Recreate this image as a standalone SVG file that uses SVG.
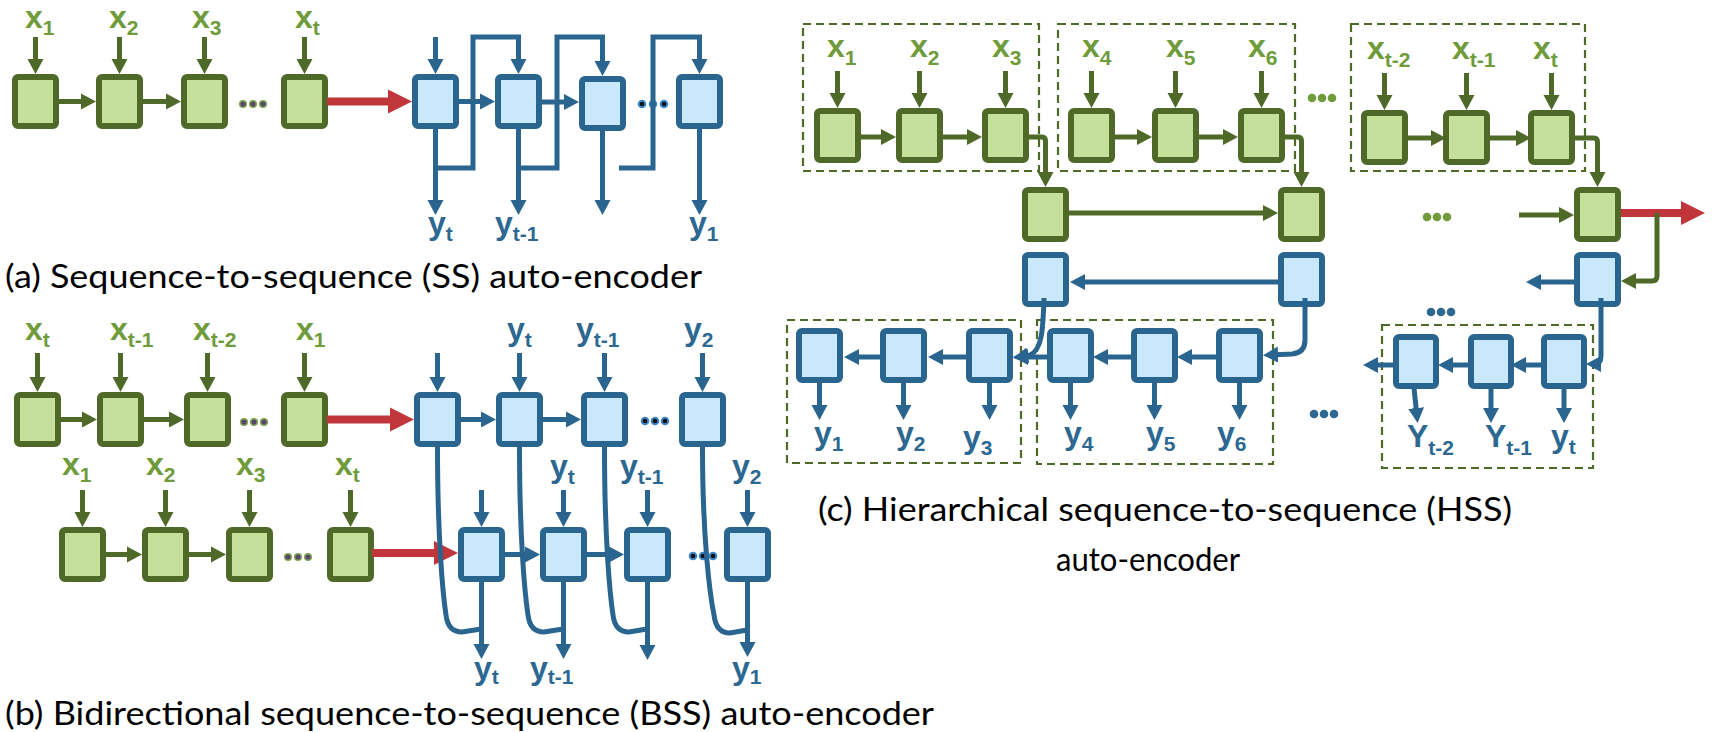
<svg xmlns="http://www.w3.org/2000/svg" width="1712" height="732" viewBox="0 0 1712 732">
<style>
.gb{fill:#c5e09b;stroke:#4f6a28;stroke-width:6}
.bb{fill:#cae8fb;stroke:#2a6590;stroke-width:6}
.gl{fill:none;stroke:#4f6a28;stroke-width:5}
.bl{fill:none;stroke:#2a6590;stroke-width:5}
.rl{fill:none;stroke:#c0363a;stroke-width:8}
.ga{fill:none;stroke:#4f6a28;stroke-width:5;marker-end:url(#ag)}
.ba{fill:none;stroke:#2a6590;stroke-width:5;marker-end:url(#ab)}
.ra{fill:none;stroke:#c0363a;stroke-width:8;marker-end:url(#ar)}
.lg{font-family:"Liberation Sans",Arial,sans-serif;font-weight:bold;font-size:32px;fill:#6f9b3b}
.lb{font-family:"Liberation Sans",Arial,sans-serif;font-weight:bold;font-size:32px;fill:#2c6892}
.sub{font-size:21px}
.cap{font-family:Lato,"Liberation Sans",sans-serif;font-size:33px;fill:#000}
.dash{fill:none;stroke:#4f6a28;stroke-width:2.2;stroke-dasharray:8 5}
.dg{fill:#5b4570;stroke:#7ea650;stroke-width:1.5}
.db{fill:#111;stroke:#3d86c6;stroke-width:2}
.dcg{fill:#6f9b3b}
.dcb{fill:#2c6892}
</style>
<defs>
<marker id="ag" markerUnits="userSpaceOnUse" markerWidth="16" markerHeight="18" viewBox="0 0 16 18" refX="9" refY="9" orient="auto"><path d="M0,1 L15,9 L0,17 z" fill="#4f6a28"/></marker>
<marker id="ab" markerUnits="userSpaceOnUse" markerWidth="16" markerHeight="18" viewBox="0 0 16 18" refX="9" refY="9" orient="auto"><path d="M0,1 L15,9 L0,17 z" fill="#2a6590"/></marker>
<marker id="ar" markerUnits="userSpaceOnUse" markerWidth="25" markerHeight="26" viewBox="0 0 25 26" refX="14" refY="13" orient="auto"><path d="M0,1 L24,13 L0,25 z" fill="#c0363a"/></marker>
</defs>

<!-- ===== (a) ===== -->
<g id="a-enc1"><rect class="gb" x="15" y="77" width="41" height="49" rx="3"/><text class="lg" x="25" y="28">x<tspan class="sub" dy="7">1</tspan></text></g>
<g id="a-enc2"><rect class="gb" x="99" y="77" width="41" height="49" rx="3"/><text class="lg" x="109" y="28">x<tspan class="sub" dy="7">2</tspan></text></g>
<g id="a-enc3"><rect class="gb" x="184" y="77" width="41" height="49" rx="3"/><text class="lg" x="192" y="28">x<tspan class="sub" dy="7">3</tspan></text></g>
<g id="a-enc4"><rect class="gb" x="284" y="77" width="41" height="49" rx="3"/><text class="lg" x="295" y="28">x<tspan class="sub" dy="7">t</tspan></text></g>
<g id="a-dec1"><rect class="bb" x="415" y="77" width="41" height="49" rx="3"/><text class="lb" x="428" y="234">y<tspan class="sub" dy="7">t</tspan></text></g>
<g id="a-dec2"><rect class="bb" x="498" y="77" width="41" height="49" rx="3"/><text class="lb" x="495" y="234">y<tspan class="sub" dy="7">t-1</tspan></text></g>
<g id="a-dec3"><rect class="bb" x="582" y="79" width="41" height="49" rx="3"/></g>
<g id="a-dec4"><rect class="bb" x="679" y="77" width="41" height="49" rx="3"/><text class="lb" x="689" y="234">y<tspan class="sub" dy="7">1</tspan></text></g>
<g id="a-dots">
<circle class="dg" cx="243" cy="104" r="3.3"/><circle class="dg" cx="253" cy="104" r="3.3"/><circle class="dg" cx="263" cy="104" r="3.3"/>
<circle class="db" cx="642" cy="104" r="3.3"/><circle class="db" cx="653" cy="104" r="3.3"/><circle class="db" cx="664" cy="104" r="3.3"/>
</g>

<!-- ===== (b) ===== -->
<g id="b-enc1"><rect class="gb" x="17" y="395" width="41" height="49" rx="3"/><text class="lg" x="25" y="340">x<tspan class="sub" dy="7">t</tspan></text></g>
<g id="b-enc2"><rect class="gb" x="100" y="395" width="41" height="49" rx="3"/><text class="lg" x="110" y="340">x<tspan class="sub" dy="7">t-1</tspan></text></g>
<g id="b-enc3"><rect class="gb" x="187" y="395" width="41" height="49" rx="3"/><text class="lg" x="193" y="340">x<tspan class="sub" dy="7">t-2</tspan></text></g>
<g id="b-enc4"><rect class="gb" x="284" y="395" width="41" height="49" rx="3"/><text class="lg" x="296" y="340">x<tspan class="sub" dy="7">1</tspan></text></g>
<g id="b-dec1"><rect class="bb" x="417" y="395" width="41" height="49" rx="3"/></g>
<g id="b-dec2"><rect class="bb" x="499" y="395" width="41" height="49" rx="3"/><text class="lb" x="507" y="340">y<tspan class="sub" dy="7">t</tspan></text></g>
<g id="b-dec3"><rect class="bb" x="584" y="395" width="41" height="49" rx="3"/><text class="lb" x="576" y="340">y<tspan class="sub" dy="7">t-1</tspan></text></g>
<g id="b-dec4"><rect class="bb" x="682" y="395" width="41" height="49" rx="3"/><text class="lb" x="684" y="340">y<tspan class="sub" dy="7">2</tspan></text></g>

<g id="b-renc1"><rect class="gb" x="62" y="530" width="41" height="49" rx="3"/><text class="lg" x="62" y="475">x<tspan class="sub" dy="7">1</tspan></text></g>
<g id="b-renc2"><rect class="gb" x="145" y="530" width="41" height="49" rx="3"/><text class="lg" x="146" y="475">x<tspan class="sub" dy="7">2</tspan></text></g>
<g id="b-renc3"><rect class="gb" x="229" y="530" width="41" height="49" rx="3"/><text class="lg" x="236" y="475">x<tspan class="sub" dy="7">3</tspan></text></g>
<g id="b-renc4"><rect class="gb" x="330" y="530" width="41" height="49" rx="3"/><text class="lg" x="335" y="475">x<tspan class="sub" dy="7">t</tspan></text></g>
<g id="b-rdec1"><rect class="bb" x="461" y="530" width="41" height="49" rx="3"/><text class="lb" x="474" y="679">y<tspan class="sub" dy="5">t</tspan></text></g>
<g id="b-rdec2"><rect class="bb" x="543" y="530" width="41" height="49" rx="3"/><text class="lb" x="550" y="477">y<tspan class="sub" dy="7">t</tspan></text><text class="lb" x="530" y="679">y<tspan class="sub" dy="5">t-1</tspan></text></g>
<g id="b-rdec3"><rect class="bb" x="627" y="530" width="41" height="49" rx="3"/><text class="lb" x="620" y="477">y<tspan class="sub" dy="7">t-1</tspan></text></g>
<g id="b-rdec4"><rect class="bb" x="727" y="530" width="41" height="49" rx="3"/><text class="lb" x="732" y="477">y<tspan class="sub" dy="7">2</tspan></text><text class="lb" x="732" y="679">y<tspan class="sub" dy="5">1</tspan></text></g>
<g id="b-dots">
<circle class="dg" cx="244" cy="422" r="3.3"/><circle class="dg" cx="254" cy="422" r="3.3"/><circle class="dg" cx="264" cy="422" r="3.3"/>
<circle class="db" cx="645" cy="421" r="3.3"/><circle class="db" cx="655" cy="421" r="3.3"/><circle class="db" cx="665" cy="421" r="3.3"/>
<circle class="dg" cx="288" cy="557" r="3.3"/><circle class="dg" cx="298" cy="557" r="3.3"/><circle class="dg" cx="308" cy="557" r="3.3"/>
<circle class="db" cx="693" cy="556" r="3.3"/><circle class="db" cx="703" cy="556" r="3.3"/><circle class="db" cx="713" cy="556" r="3.3"/>
</g>

<!-- ===== (c) ===== -->
<g id="c-groups">
<rect class="dash" x="803" y="24" width="236" height="147"/>
<rect class="dash" x="1058" y="24" width="237" height="147"/>
<rect class="dash" x="1351" y="24" width="234" height="147"/>
<rect class="dash" x="787" y="320" width="234" height="143"/>
<rect class="dash" x="1037" y="320" width="236" height="144"/>
<rect class="dash" x="1382" y="325" width="211" height="143"/>
</g>
<g id="c-enc1"><rect class="gb" x="817" y="111" width="41" height="49" rx="3"/><text class="lg" x="827" y="57">x<tspan class="sub" dy="8">1</tspan></text></g>
<g id="c-enc2"><rect class="gb" x="899" y="111" width="41" height="49" rx="3"/><text class="lg" x="910" y="57">x<tspan class="sub" dy="8">2</tspan></text></g>
<g id="c-enc3"><rect class="gb" x="985" y="111" width="41" height="49" rx="3"/><text class="lg" x="992" y="57">x<tspan class="sub" dy="8">3</tspan></text></g>
<g id="c-enc4"><rect class="gb" x="1071" y="111" width="41" height="49" rx="3"/><text class="lg" x="1082" y="57">x<tspan class="sub" dy="8">4</tspan></text></g>
<g id="c-enc5"><rect class="gb" x="1155" y="111" width="41" height="49" rx="3"/><text class="lg" x="1166" y="57">x<tspan class="sub" dy="8">5</tspan></text></g>
<g id="c-enc6"><rect class="gb" x="1241" y="111" width="41" height="49" rx="3"/><text class="lg" x="1248" y="57">x<tspan class="sub" dy="8">6</tspan></text></g>
<g id="c-enc7"><rect class="gb" x="1364" y="113" width="41" height="49" rx="3"/><text class="lg" x="1367" y="59">x<tspan class="sub" dy="8">t-2</tspan></text></g>
<g id="c-enc8"><rect class="gb" x="1446" y="113" width="41" height="49" rx="3"/><text class="lg" x="1452" y="59">x<tspan class="sub" dy="8">t-1</tspan></text></g>
<g id="c-enc9"><rect class="gb" x="1531" y="113" width="41" height="49" rx="3"/><text class="lg" x="1533" y="59">x<tspan class="sub" dy="8">t</tspan></text></g>
<g id="c-sum1"><rect class="gb" x="1025" y="190" width="41" height="49" rx="3"/></g>
<g id="c-sum2"><rect class="gb" x="1281" y="190" width="41" height="49" rx="3"/></g>
<g id="c-sum3"><rect class="gb" x="1577" y="190" width="41" height="49" rx="3"/></g>
<g id="c-sdec1"><rect class="bb" x="1025" y="255" width="41" height="49" rx="3"/></g>
<g id="c-sdec2"><rect class="bb" x="1281" y="255" width="41" height="49" rx="3"/></g>
<g id="c-sdec3"><rect class="bb" x="1577" y="255" width="41" height="49" rx="3"/></g>
<g id="c-dec1"><rect class="bb" x="799" y="331" width="41" height="49" rx="3"/><text class="lb" x="814" y="444">y<tspan class="sub" dy="7">1</tspan></text></g>
<g id="c-dec2"><rect class="bb" x="883" y="331" width="41" height="49" rx="3"/><text class="lb" x="896" y="444">y<tspan class="sub" dy="7">2</tspan></text></g>
<g id="c-dec3"><rect class="bb" x="969" y="331" width="41" height="49" rx="3"/><text class="lb" x="963" y="448">y<tspan class="sub" dy="7">3</tspan></text></g>
<g id="c-dec4"><rect class="bb" x="1050" y="331" width="41" height="49" rx="3"/><text class="lb" x="1064" y="444">y<tspan class="sub" dy="7">4</tspan></text></g>
<g id="c-dec5"><rect class="bb" x="1134" y="331" width="41" height="49" rx="3"/><text class="lb" x="1146" y="444">y<tspan class="sub" dy="7">5</tspan></text></g>
<g id="c-dec6"><rect class="bb" x="1219" y="331" width="41" height="49" rx="3"/><text class="lb" x="1217" y="444">y<tspan class="sub" dy="7">6</tspan></text></g>
<g id="c-dec7"><rect class="bb" x="1396" y="337" width="40" height="49" rx="3"/><text class="lb" x="1407" y="447">Y<tspan class="sub" dy="8">t-2</tspan></text></g>
<g id="c-dec8"><rect class="bb" x="1471" y="337" width="40" height="49" rx="3"/><text class="lb" x="1485" y="447">Y<tspan class="sub" dy="8">t-1</tspan></text></g>
<g id="c-dec9"><rect class="bb" x="1544" y="337" width="40" height="49" rx="3"/><text class="lb" x="1551" y="447">y<tspan class="sub" dy="7">t</tspan></text></g>
<g id="c-dots">
<circle class="dcg" cx="1312" cy="98" r="4.3"/><circle class="dcg" cx="1322" cy="98" r="4.3"/><circle class="dcg" cx="1332" cy="98" r="4.3"/>
<circle class="dcg" cx="1427" cy="217" r="4.3"/><circle class="dcg" cx="1437" cy="217" r="4.3"/><circle class="dcg" cx="1447" cy="217" r="4.3"/>
<circle class="dcb" cx="1431" cy="312" r="4.3"/><circle class="dcb" cx="1441" cy="312" r="4.3"/><circle class="dcb" cx="1451" cy="312" r="4.3"/>
<circle class="dcb" cx="1314" cy="414" r="4.3"/><circle class="dcb" cx="1324" cy="414" r="4.3"/><circle class="dcb" cx="1334" cy="414" r="4.3"/>
</g>

<g id="connectors">
<!-- (a) -->
<path class="ga" d="M35.5,37 V68"/>
<path class="ga" d="M119.5,37 V68"/>
<path class="ga" d="M204.5,37 V68"/>
<path class="ga" d="M304.5,37 V68"/>
<path class="ga" d="M58,101.5 H90"/>
<path class="ga" d="M142,101.5 H175"/>
<path class="ra" d="M327,101.5 H402"/>
<path class="ba" d="M435.5,37 V68"/>
<path class="ba" d="M458,101.5 H489"/>
<path class="ba" d="M541,102 H573"/>
<path class="ba" d="M435.5,128 V209"/>
<path class="ba" d="M518.5,128 V209"/>
<path class="ba" d="M602.5,130 V209"/>
<path class="ba" d="M699.5,128 V209"/>
<path class="ba" d="M437,168 H473 V37 H518.5 V68"/>
<path class="ba" d="M520,168 H557 V37 H602.5 V70"/>
<path class="ba" d="M619,168 H653 V37 H699.5 V68"/>
<!-- (b) row 1 -->
<path class="ga" d="M37.5,353 V386"/>
<path class="ga" d="M120.5,353 V386"/>
<path class="ga" d="M207.5,353 V386"/>
<path class="ga" d="M304.5,353 V386"/>
<path class="ga" d="M60,419.5 H91"/>
<path class="ga" d="M143,419.5 H178"/>
<path class="ra" d="M327,419.5 H404"/>
<path class="ba" d="M437.5,353 V386"/>
<path class="ba" d="M519.5,353 V386"/>
<path class="ba" d="M604.5,353 V386"/>
<path class="ba" d="M702.5,353 V386"/>
<path class="ba" d="M460,419.5 H490"/>
<path class="ba" d="M542,419.5 H575"/>
<!-- (b) row 2 -->
<path class="ga" d="M82.5,490 V521"/>
<path class="ga" d="M165.5,490 V521"/>
<path class="ga" d="M249.5,490 V521"/>
<path class="ga" d="M350.5,490 V521"/>
<path class="ga" d="M105,554.5 H136"/>
<path class="ga" d="M188,554.5 H220"/>
<path class="ra" d="M372,553 H448"/>
<path class="ba" d="M481.5,490 V521"/>
<path class="ba" d="M563.5,490 V521"/>
<path class="ba" d="M647.5,490 V521"/>
<path class="ba" d="M747.5,490 V521"/>
<path class="ba" d="M504,554.5 H534"/>
<path class="ba" d="M586,554.5 H618"/>
<path class="ba" d="M481.5,581 V653"/>
<path class="ba" d="M563.5,581 V653"/>
<path class="ba" d="M647.5,581 V654"/>
<path class="ba" d="M747.5,581 V651"/>
<path class="bl" d="M437.5,447 C437.5,540 443,595 446,615 Q448,632 462,632 L481,629"/>
<path class="bl" d="M519.5,447 C519.5,540 525,595 528,615 Q530,632 544,632 L563,629"/>
<path class="bl" d="M604.5,447 C604.5,540 610,595 613,615 Q615,632 629,632 L647,629"/>
<path class="bl" d="M702.5,447 C702.5,540 710,595 714,615 Q716,633 730,633 L747,630"/>
<!-- (c) encoders -->
<path class="ga" d="M837.5,71 V102"/>
<path class="ga" d="M919.5,71 V102"/>
<path class="ga" d="M1005.5,71 V102"/>
<path class="ga" d="M1091.5,71 V102"/>
<path class="ga" d="M1175.5,71 V102"/>
<path class="ga" d="M1261.5,71 V102"/>
<path class="ga" d="M1384.5,73 V104"/>
<path class="ga" d="M1466.5,73 V104"/>
<path class="ga" d="M1551.5,73 V104"/>
<path class="ga" d="M861,137 H890"/>
<path class="ga" d="M943,137 H976"/>
<path class="ga" d="M1115,137 H1146"/>
<path class="ga" d="M1199,137 H1232"/>
<path class="ga" d="M1408,138 H1440"/>
<path class="ga" d="M1490,138 H1525"/>
<path class="ga" d="M1029,137 H1042 Q1045.5,137 1045.5,141 V181"/>
<path class="ga" d="M1285,137 H1298 Q1301.5,137 1301.5,141 V181"/>
<path class="ga" d="M1575,138 H1594 Q1597.5,138 1597.5,142 V181"/>
<path class="ga" d="M1069,213 H1272"/>
<path class="ga" d="M1519,215 H1568"/>
<path class="ra" d="M1621,213 H1695"/>
<path class="ga" d="M1657,213 V276 Q1657,281 1652,281 H1627"/>
<!-- (c) decoders -->
<path class="ba" d="M1278,282 H1076"/>
<path class="ba" d="M1575,282 H1532"/>
<path class="ba" d="M1044,298 C1043,330 1042,350 1030,355 L1019,357"/>
<path class="ba" d="M1305,298 V340 Q1305,353 1292,354 L1269,355"/>
<path class="ba" d="M1601,298 V356 Q1601,364 1594,364 L1592,364"/>
<path class="ba" d="M880,357 H850"/>
<path class="ba" d="M966,357 H934"/>
<path class="ba" d="M1047,357 H1019"/>
<path class="ba" d="M1131,357 H1099"/>
<path class="ba" d="M1216,357 H1183"/>
<path class="ba" d="M1394,365 H1369"/>
<path class="ba" d="M1469,365 H1444"/>
<path class="ba" d="M1542,365 H1517"/>
<path class="ba" d="M819.5,382 V414"/>
<path class="ba" d="M903.5,382 V414"/>
<path class="ba" d="M989.5,382 V414"/>
<path class="ba" d="M1070.5,382 V414"/>
<path class="ba" d="M1154.5,382 V414"/>
<path class="ba" d="M1239.5,382 V414"/>
<path class="ba" d="M1414,388 L1417,417"/>
<path class="ba" d="M1491,388 V417"/>
<path class="ba" d="M1564,388 V417"/>
</g>

<g id="captions">
<text class="cap" x="5" y="288" textLength="697" lengthAdjust="spacingAndGlyphs">(a) Sequence-to-sequence (SS) auto-encoder</text>
<text class="cap" x="5" y="725" textLength="929" lengthAdjust="spacingAndGlyphs">(b) Bidirectional sequence-to-sequence (BSS) auto-encoder</text>
<text class="cap" x="818" y="521" textLength="694" lengthAdjust="spacingAndGlyphs">(c) Hierarchical sequence-to-sequence (HSS)</text>
<text class="cap" x="1056" y="571" textLength="184" lengthAdjust="spacingAndGlyphs">auto-encoder</text>
</g>
</svg>
